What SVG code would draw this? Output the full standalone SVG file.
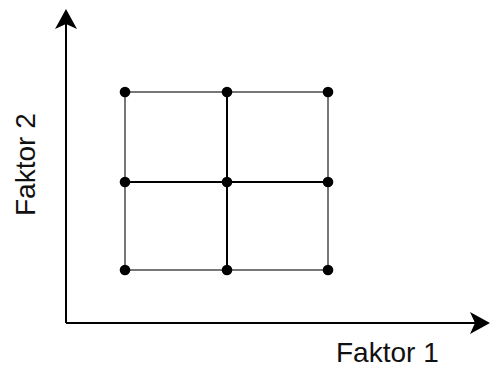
<svg xmlns="http://www.w3.org/2000/svg" width="490" height="368" viewBox="0 0 490 368">
<style>
.ax{stroke:#000;stroke-width:2;fill:none}
.outer{stroke:#555;stroke-width:1.6;fill:none}
.inner{stroke:#000;stroke-width:2;fill:none}
.dot{fill:#000}
.lbl{font-family:"Liberation Sans",Arial,sans-serif;font-size:28px;fill:#111}
</style>
<defs>
<marker id="ah" markerWidth="20" markerHeight="22" refX="18" refY="11" orient="auto" markerUnits="userSpaceOnUse">
<path d="M0,0 L20,11 L0,22 L5,11 Z" fill="#000"/>
</marker>
</defs>
<g id="connectors">
<line class="ax" x1="66" y1="323" x2="66" y2="11" marker-end="url(#ah)"/>
<line class="ax" x1="66" y1="323" x2="488" y2="323" marker-end="url(#ah)"/>
<rect class="outer" x="125" y="92" width="203" height="178"/>
<line class="inner" x1="125" y1="182" x2="328" y2="182"/>
<line class="inner" x1="227" y1="92" x2="227" y2="270"/>
</g>
<g id="points">
<circle class="dot" cx="125" cy="92" r="5.3"/>
<circle class="dot" cx="227" cy="92" r="5.3"/>
<circle class="dot" cx="328" cy="92" r="5.3"/>
<circle class="dot" cx="125" cy="182" r="5.3"/>
<circle class="dot" cx="227" cy="182" r="5.3"/>
<circle class="dot" cx="328" cy="182" r="5.3"/>
<circle class="dot" cx="125" cy="270" r="5.3"/>
<circle class="dot" cx="227" cy="270" r="5.3"/>
<circle class="dot" cx="328" cy="270" r="5.3"/>
</g>
<g id="label-x"><text class="lbl" x="336" y="362">Faktor 1</text></g>
<g id="label-y"><text class="lbl" transform="translate(35,216) rotate(-90)">Faktor 2</text></g>
</svg>
